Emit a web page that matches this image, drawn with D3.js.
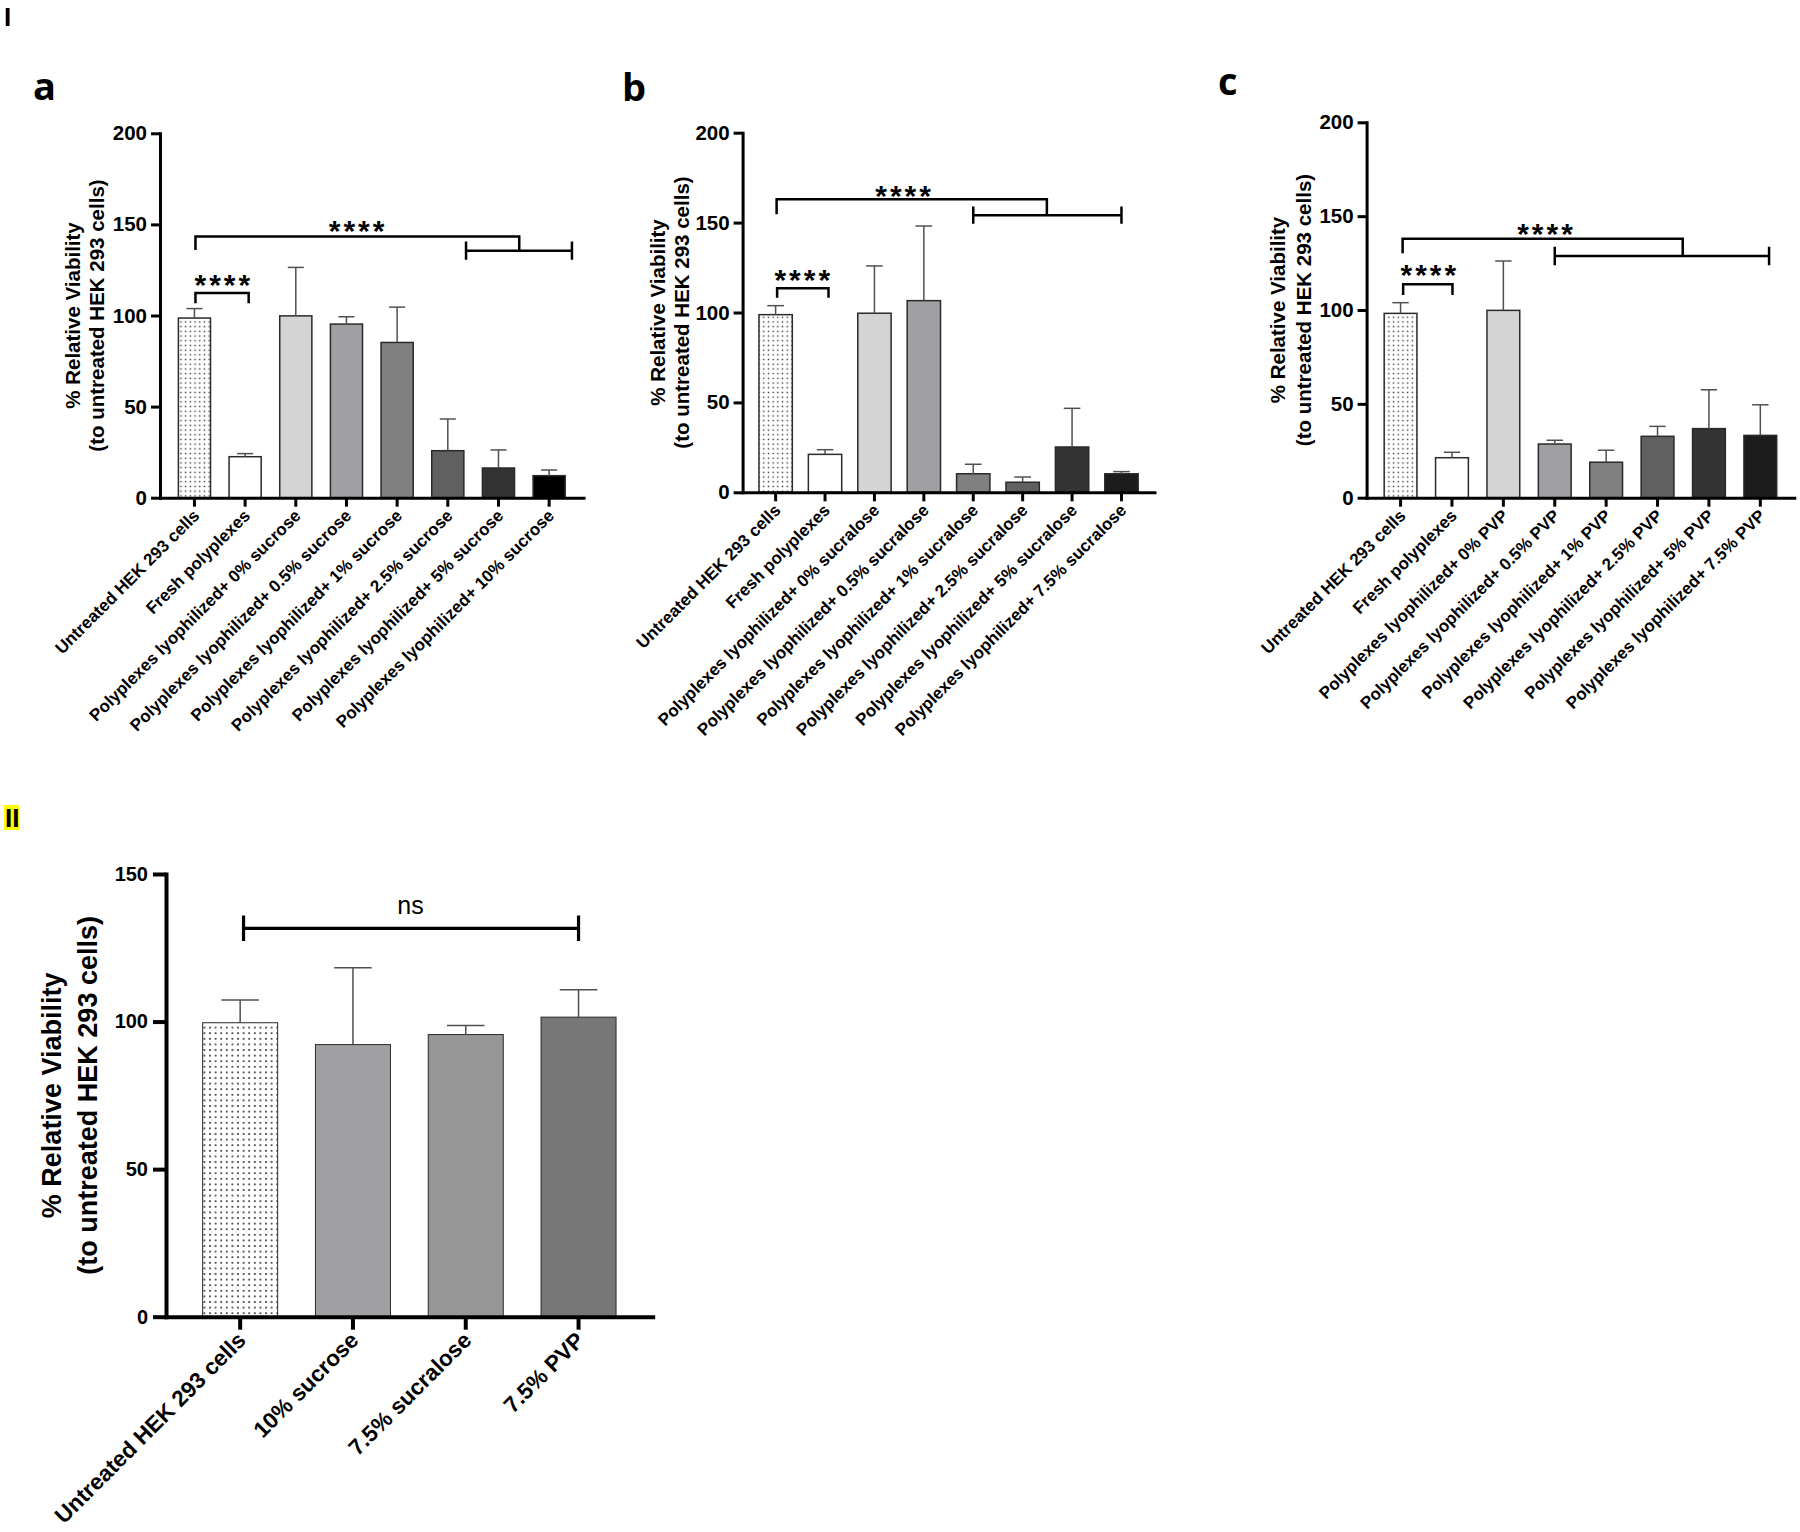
<!DOCTYPE html>
<meta charset="utf-8">
<style>
    body { margin: 0; background: #ffffff; }
    svg { display: block; font-family: "Liberation Sans", Arial, sans-serif; }
</style>

<script src="https://cdn.jsdelivr.net/npm/d3@7"></script>

<svg id="fig" width="1800" height="1532"></svg>

<script>

// =============================================================================
// Viability bar charts (panels a, b, c and II)
// =============================================================================

// Data

var ticks200 = [0, 50, 100, 150, 200];
var ticks150 = [0, 50, 100, 150];

var catsA = ['Untreated HEK 293 cells', 'Fresh polyplexes',
    'Polyplexes lyophilized+ 0% sucrose', 'Polyplexes lyophilized+ 0.5% sucrose',
    'Polyplexes lyophilized+ 1% sucrose', 'Polyplexes lyophilized+ 2.5% sucrose',
    'Polyplexes lyophilized+ 5% sucrose', 'Polyplexes lyophilized+ 10% sucrose'];
var meanA = [98.6, 22.5, 99.8, 95.3, 85.2, 25.8, 16.3, 12.1];
var sdA   = [5.2, 1.7, 26.6, 4.0, 19.4, 17.4, 9.9, 3.1];

var catsB = ['Untreated HEK 293 cells', 'Fresh polyplexes',
    'Polyplexes lyophilized+ 0% sucralose', 'Polyplexes lyophilized+ 0.5% sucralose',
    'Polyplexes lyophilized+ 1% sucralose', 'Polyplexes lyophilized+ 2.5% sucralose',
    'Polyplexes lyophilized+ 5% sucralose', 'Polyplexes lyophilized+ 7.5% sucralose'];
var meanB = [98.8, 21.1, 99.6, 106.6, 10.3, 5.6, 25.2, 10.3];
var sdB   = [5.0, 2.6, 26.3, 41.5, 5.3, 2.9, 21.5, 1.2];

var catsC = ['Untreated HEK 293 cells', 'Fresh polyplexes',
    'Polyplexes lyophilized+ 0% PVP', 'Polyplexes lyophilized+ 0.5% PVP',
    'Polyplexes lyophilized+ 1% PVP', 'Polyplexes lyophilized+ 2.5% PVP',
    'Polyplexes lyophilized+ 5% PVP', 'Polyplexes lyophilized+ 7.5% PVP'];
var meanC = [98.2, 21.3, 99.8, 28.6, 18.9, 32.7, 36.8, 33.2];
var sdC   = [5.7, 2.9, 26.3, 2.0, 6.4, 5.3, 20.7, 16.3];

var catsII = ['Untreated HEK 293 cells', '10% sucrose', '7.5% sucralose', '7.5% PVP'];
var meanII = [99.6, 92.2, 95.6, 101.5];
var sdII   = [7.7, 26.0, 3.1, 9.3];

// significance annotations (x in bar-index units, y in data units)
var sigA = [
    { from: 0.02, to: 1.07, top: 112.3, foot: 106.7, text: '****', tx: 0.58, ty: 120.6 },
    { from: 0.02, to: 6.41, top: 143.3, foot: 135.9, text: '****', tx: 3.23, ty: 150.4,
      group: [5.36, 7.45], gy: 135.6, cap: 5 }
];
var sigB = [
    { from: 0.03, to: 1.07, top: 113.5, foot: 108.2, text: '****', tx: 0.57, ty: 121.8 },
    { from: 0.02, to: 5.49, top: 163.0, foot: 154.6, text: '****', tx: 2.61, ty: 168.9,
      group: [4.0, 7.0], gy: 154.1, cap: 4.8 }
];
var sigC = [
    { from: 0.05, to: 1.01, top: 113.7, foot: 108.0, text: '****', tx: 0.57, ty: 122.2 },
    { from: 0.04, to: 5.49, top: 138.0, foot: 130.2, text: '****', tx: 2.84, ty: 144.4,
      group: [3.0, 7.17], gy: 128.8, cap: 4.9 }
];
var sigII = [
    { line: [0.03, 3.0], gy: 131.6, cap: 4.3, text: 'ns', tx: 1.51, ty: 136.5 }
];

// bar fills ('dots' = stippled pattern)
var fillsA  = ['dots', '#ffffff', '#d4d4d4', '#a0a0a4', '#808080', '#606060', '#333333', '#000000'];
var fillsBC = ['dots', '#ffffff', '#d4d4d4', '#a0a0a4', '#808080', '#606060', '#333333', '#1c1c1c'];
var fillsII = ['dots', '#a0a0a4', '#969696', '#777777'];


// Setup

var svg = d3.select('svg#fig');
var defs = svg.append('defs');

function dotPattern (id, size, dot) {
    var p = defs.append('pattern')
        .attr('id', id)
        .attr('patternUnits', 'userSpaceOnUse')
        .attr('width', size)
        .attr('height', size);
    p.append('rect').attr('width', size).attr('height', size).attr('fill', '#ffffff');
    p.append('rect').attr('x', size / 2 - dot / 2).attr('y', size / 2 - dot / 2)
        .attr('width', dot).attr('height', dot).attr('fill', '#333333');
}
dotPattern('dotsSmall', 4.7, 1.4);
dotPattern('dotsLarge', 5.6, 1.7);


// Panel renderer

function drawPanel (cfg) {
    var g = svg.append('g');
    var n = cfg.cats.length;

    var x = d3.scaleBand()
        .domain(cfg.cats)
        .range([cfg.x0, cfg.x1])
        .paddingInner(cfg.pi)
        .paddingOuter(cfg.po);

    var y = d3.scaleLinear()
        .domain([0, cfg.yMax])
        .range([cfg.y0, cfg.y1]);

    var bw = x.bandwidth();
    var xi = d3.scaleLinear()                  // fractional bar index -> pixel
        .domain([0, n - 1])
        .range([x(cfg.cats[0]) + bw / 2, x(cfg.cats[n - 1]) + bw / 2]);

    // bars
    g.selectAll('rect.bar')
        .data(cfg.cats)
        .join('rect')
        .attr('class', 'bar')
        .attr('x', function (d) { return x(d); })
        .attr('y', function (d, i) { return y(cfg.mean[i]); })
        .attr('width', bw)
        .attr('height', function (d, i) { return y(0) - y(cfg.mean[i]); })
        .attr('fill', function (d, i) { return cfg.fills[i] === 'dots' ? 'url(#' + cfg.pattern + ')' : cfg.fills[i]; })
        .attr('stroke', '#2a2a2a')
        .attr('stroke-width', cfg.barStroke);

    // error bars (upper only)
    var err = g.selectAll('g.err')
        .data(cfg.cats)
        .join('g')
        .attr('class', 'err')
        .attr('stroke', '#505050')
        .attr('stroke-width', cfg.errW);
    err.append('line')
        .attr('x1', function (d) { return x(d) + bw / 2; })
        .attr('x2', function (d) { return x(d) + bw / 2; })
        .attr('y1', function (d, i) { return y(cfg.mean[i]); })
        .attr('y2', function (d, i) { return y(cfg.mean[i] + cfg.sd[i]); });
    err.append('line')
        .attr('x1', function (d) { return x(d) + bw / 4; })
        .attr('x2', function (d) { return x(d) + bw * 3 / 4; })
        .attr('y1', function (d, i) { return y(cfg.mean[i] + cfg.sd[i]); })
        .attr('y2', function (d, i) { return y(cfg.mean[i] + cfg.sd[i]); });

    // axes
    var yAxis = g.append('g')
        .attr('transform', 'translate(' + cfg.x0 + ',0)')
        .call(d3.axisLeft(y).tickValues(cfg.ticks).tickSize(cfg.tickLen).tickSizeOuter(0).tickPadding(cfg.tickPad));
    var xAxis = g.append('g')
        .attr('transform', 'translate(0,' + cfg.y0 + ')')
        .call(d3.axisBottom(x).tickSize(cfg.tickLen).tickSizeOuter(0));

    [yAxis, xAxis].forEach(function (ax) {
        ax.select('.domain').attr('stroke', '#000').attr('stroke-width', cfg.axisW).attr('stroke-linecap', 'square');
        ax.selectAll('.tick line').attr('stroke', '#000').attr('stroke-width', cfg.axisW);
        ax.selectAll('text')
            .attr('fill', '#000')
            .style('font-family', '"Liberation Sans", Arial, sans-serif')
            .style('font-weight', 'bold');
    });
    yAxis.selectAll('text').style('font-size', cfg.tickFont + 'px');
    xAxis.selectAll('text')
        .style('font-size', cfg.labelFont + 'px')
        .attr('text-anchor', 'end')
        .attr('x', 0)
        .attr('y', 0)
        .attr('dy', 0)
        .attr('transform', 'translate(' + cfg.labelDx + ',' + (cfg.tickLen + cfg.labelDy) + ') rotate(-45)');

    // y-axis title (two lines)
    var midY = (cfg.y0 + cfg.y1) / 2;
    [['% Relative Viability', cfg.title1], ['(to untreated HEK 293 cells)', cfg.title2]].forEach(function (t) {
        g.append('text')
            .attr('transform', 'translate(' + (cfg.x0 + t[1]) + ',' + midY + ') rotate(-90)')
            .attr('text-anchor', 'middle')
            .attr('dominant-baseline', 'central')
            .style('font-size', cfg.titleFont + 'px')
            .style('font-weight', 'bold')
            .text(t[0]);
    });

    // significance brackets
    var sg = g.append('g')
        .attr('stroke', '#000')
        .attr('stroke-width', cfg.sigW)
        .attr('fill', 'none');

    cfg.sig.forEach(function (s) {
        if (s.line) {
            // straight line with end caps
            sg.append('path').attr('d',
                'M' + xi(s.line[0]) + ',' + y(s.gy) + 'H' + xi(s.line[1]) +
                'M' + xi(s.line[0]) + ',' + y(s.gy + s.cap) + 'V' + y(s.gy - s.cap) +
                'M' + xi(s.line[1]) + ',' + y(s.gy + s.cap) + 'V' + y(s.gy - s.cap));
        } else {
            var rightFoot = s.group ? s.gy : s.foot;
            sg.append('path').attr('d',
                'M' + xi(s.from) + ',' + y(s.foot) + 'V' + y(s.top) +
                'H' + xi(s.to) + 'V' + y(rightFoot));
            if (s.group) {
                sg.append('path').attr('d',
                    'M' + xi(s.group[0]) + ',' + y(s.gy) + 'H' + xi(s.group[1]) +
                    'M' + xi(s.group[0]) + ',' + y(s.gy + s.cap) + 'V' + y(s.gy - s.cap) +
                    'M' + xi(s.group[1]) + ',' + y(s.gy + s.cap) + 'V' + y(s.gy - s.cap));
            }
        }

        var isStars = s.text.indexOf('*') >= 0;
        g.append('text')
            .attr('x', xi(s.tx))
            .attr('y', isStars ? y(s.ty) + 0.57 * cfg.starFont : y(s.ty))
            .attr('text-anchor', 'middle')
            .style('font-size', (isStars ? cfg.starFont : cfg.nsFont) + 'px')
            .style('font-weight', isStars ? 'bold' : 'normal')
            .style('letter-spacing', isStars ? '3px' : '0px')
            .text(s.text);
    });
}

var smallStyle = {
    ticks: ticks200, yMax: 200, tickLen: 9, tickPad: 4, axisW: 3,
    tickFont: 20.5, labelFont: 17, labelDx: 6, labelDy: 10, titleFont: 20.5,
    barStroke: 1.5, errW: 1.5, sigW: 2.5, starFont: 30, nsFont: 25,
    pattern: 'dotsSmall'
};

drawPanel(Object.assign({}, smallStyle, {
    cats: catsA, mean: meanA, sd: sdA, fills: fillsA, sig: sigA,
    x0: 160, x1: 583.6, y0: 497.7, y1: 133.3, pi: 0.366, po: 0.363,
    title1: -87.3, title2: -63.4
}));

drawPanel(Object.assign({}, smallStyle, {
    cats: catsB, mean: meanB, sd: sdB, fills: fillsBC, sig: sigB,
    x0: 742.6, x1: 1154.5, y0: 492.3, y1: 132.7, pi: 0.325, po: 0.331,
    title1: -85.5, title2: -61.2
}));

drawPanel(Object.assign({}, smallStyle, {
    cats: catsC, mean: meanC, sd: sdC, fills: fillsBC, sig: sigC,
    x0: 1366.6, x1: 1794.3, y0: 497.7, y1: 122.3, pi: 0.362, po: 0.342,
    title1: -88.7, title2: -63
}));

drawPanel({
    cats: catsII, mean: meanII, sd: sdII, fills: fillsII, sig: sigII,
    ticks: ticks150, yMax: 150,
    x0: 166, x1: 652.7, y0: 1316.7, y1: 874, pi: 0.335, po: 0.325,
    tickLen: 13, tickPad: 5, axisW: 4,
    tickFont: 20, labelFont: 22.5, labelDx: 7, labelDy: 12, titleFont: 27,
    title1: -114, title2: -78.5,
    barStroke: 1, errW: 1.5, sigW: 3.2, starFont: 30, nsFont: 25,
    pattern: 'dotsLarge'
});


// Panel letters

function letter (txt, x, y, size, family) {
    return svg.append('text')
        .attr('x', x)
        .attr('y', y)
        .style('font-family', family)
        .style('font-size', size + 'px')
        .style('font-weight', 'bold')
        .text(txt);
}

letter('I', 4, 26, 26, '"Liberation Sans", Arial, sans-serif');
letter('a', 33, 100, 38, '"Open Sans", sans-serif');
letter('b', 622, 101, 38, '"Open Sans", sans-serif');
letter('c', 1218, 95, 38, '"Open Sans", sans-serif');

svg.append('rect')
    .attr('x', 4).attr('y', 805).attr('width', 15).attr('height', 25)
    .attr('fill', '#ffff00');
letter('II', 5, 827, 26, '"Liberation Sans", Arial, sans-serif');

</script>
